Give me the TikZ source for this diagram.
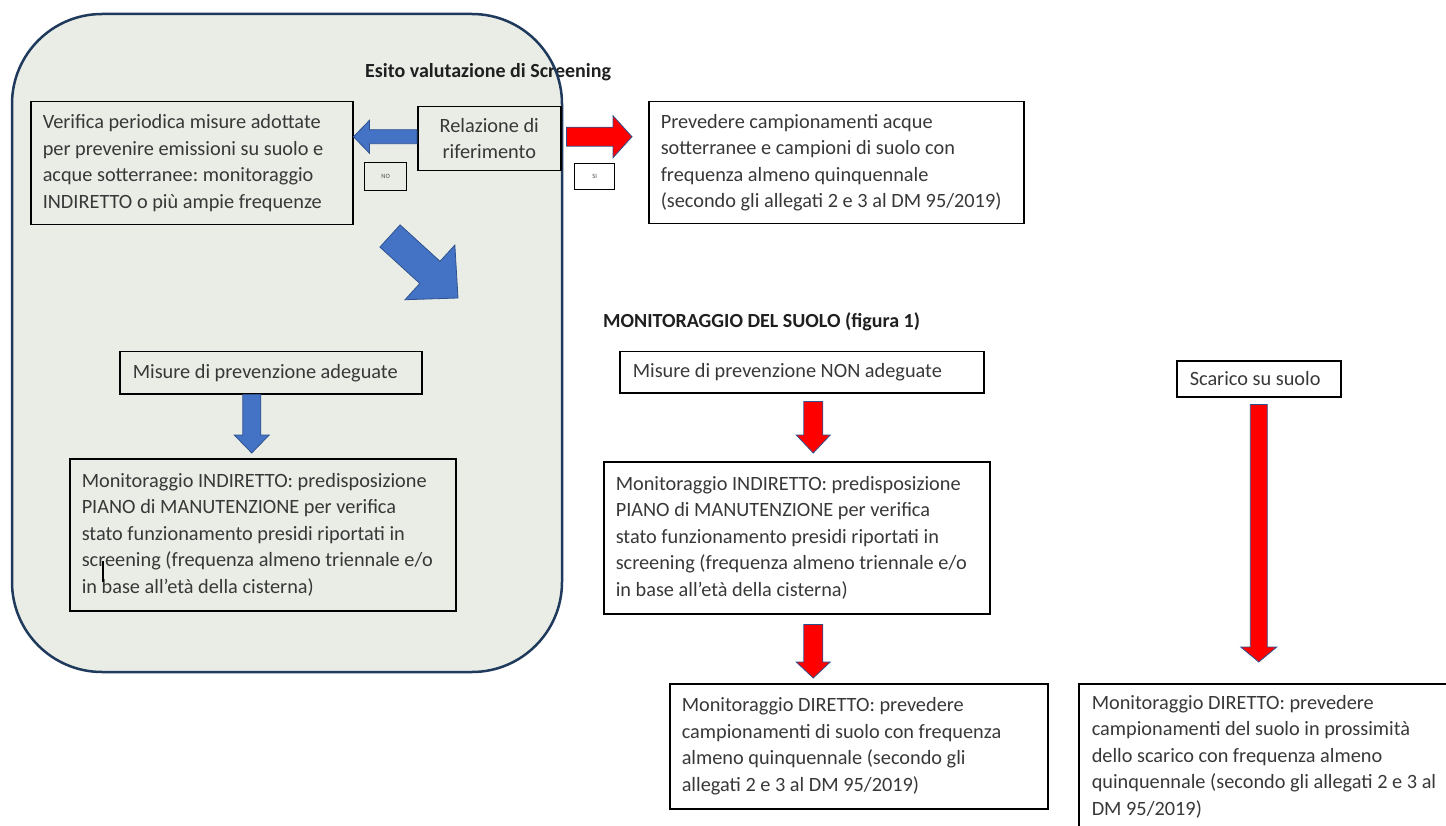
\documentclass[tikz,border=0pt]{standalone}
\usepackage{fontspec}
\setmainfont{Carlito}
\usetikzlibrary{calc}
\definecolor{bgpanel}{HTML}{E9EDE6}
\definecolor{panelline}{HTML}{1F3A5C}
\definecolor{arrblue}{HTML}{4472C4}
\definecolor{arredge}{HTML}{2F528F}
\definecolor{arrred}{HTML}{FF0000}
\newcommand\boxfont{\fontsize{20.3}{26.5}\selectfont\frenchspacing}
% block arrow: #1 style, #2 tail, #3 tip, #4 half shaft, #5 half head, #6 head length
\newcommand\blkarr[6]{%
  \coordinate (tmpH) at ($(#3)!#6!(#2)$);
  \draw[#1] ($(#2)!#4!90:(#3)$) -- ($(tmpH)!#4!90:(#3)$) -- ($(tmpH)!#5!90:(#3)$)
    -- (#3) -- ($(tmpH)!#5!-90:(#3)$) -- ($(tmpH)!#4!-90:(#3)$) -- ($(#2)!#4!-90:(#3)$) -- cycle;}
\tikzset{
  txtbox/.style={draw=black, line width=1.5pt, anchor=north west, inner xsep=12pt,
    inner ysep=0pt, align=flush left, font=\boxfont, text=black!78},
  tagbox/.style={draw=black, line width=1.3pt, anchor=north west, inner sep=0pt,
    font=\fontsize{6.5}{7}\selectfont, text=black!70},
  ttl/.style={font=\bfseries\fontsize{20}{24}\selectfont, inner sep=0pt, anchor=west, text=black!88},
  bluearr/.style={fill=arrblue, draw=arredge, line width=0.8pt},
  redarr/.style={fill=arrred, draw=arredge, line width=0.8pt}
}
\begin{document}
\begin{tikzpicture}[x=1pt,y=-1pt]
\useasboundingbox (0,0) rectangle (1446,826);
\clip (0,0) rectangle (1446,826);
% panel
\fill[bgpanel, rounded corners=90pt] (12,14) rectangle (562,672);
\node[ttl] (esito) at (365,72) {Esito valutazione di Screening};
\draw[panelline, line width=2.5pt, rounded corners=90pt] (12,14) rectangle (562,672);

% boxes
\node[txtbox, text width=298pt, minimum height=123pt] (ver) at (30,101)
  {Verifica periodica misure adottate\\per prevenire emissioni su suolo e\\acque sotterranee: monitoraggio\\INDIRETTO o più ampie frequenze};
\node[tagbox, minimum width=42pt, minimum height=28pt] (no) at (364,162) {NO};
\node[txtbox, align=flush center, text width=119pt, minimum height=64pt] (rel) at (417,106)
  {Relazione di\\riferimento};
\node[tagbox, minimum width=40pt, minimum height=26pt] (si) at (574,163) {SI};
\node[txtbox, text width=351pt, minimum height=122pt] (prev) at (648,101)
  {Prevedere campionamenti acque\\sotterranee e campioni di suolo con\\frequenza almeno quinquennale\\\mbox{(secondo gli allegati 2 e 3 al DM 95/2019)}};

\node[ttl] (mon) at (603,322) {MONITORAGGIO DEL SUOLO (figura 1)};

\node[txtbox, text width=276pt, minimum height=42pt, inner xsep=13pt] (mpa) at (119,351)
  {Misure di prevenzione adeguate};
\node[txtbox, text width=362pt, minimum height=152pt] (indL) at (69,458)
  {Monitoraggio INDIRETTO: predisposizione\\PIANO di MANUTENZIONE per verifica\\stato funzionamento presidi riportati in\\\mbox{screening (frequenza almeno triennale e/o}\\in base all’età della cisterna)};
\draw[line width=1.2pt] (103,561) -- (103,582);

\node[txtbox, text width=338pt, minimum height=41pt, inner xsep=13pt] (mpn) at (619,351)
  {Misure di prevenzione NON adeguate};
\node[txtbox, text width=362pt, minimum height=152pt] (indM) at (603,461)
  {Monitoraggio INDIRETTO: predisposizione\\PIANO di MANUTENZIONE per verifica\\stato funzionamento presidi riportati in\\\mbox{screening (frequenza almeno triennale e/o}\\in base all’età della cisterna)};
\node[txtbox, text width=354pt, minimum height=125pt] (dirM) at (669,683)
  {Monitoraggio DIRETTO: prevedere\\campionamenti di suolo con frequenza\\almeno quinquennale (secondo gli\\allegati 2 e 3 al DM 95/2019)};

\node[txtbox, text width=138pt, minimum height=36pt, inner xsep=13pt] (scar) at (1176,360)
  {Scarico su suolo};
\node[txtbox, text width=364pt, minimum height=146pt, inner xsep=13pt] (dirR) at (1078,683)
  {Monitoraggio DIRETTO: prevedere\\campionamenti del suolo in prossimità\\dello scarico con frequenza almeno\\\mbox{quinquennale (secondo gli allegati 2 e 3 al}\\DM 95/2019)};

% arrow end points
\coordinate (na) at ([yshift=2pt]rel.west);
\coordinate (nb) at (na -| ver.east);
\coordinate (sa) at ($(rel.east)+(5,-2)$);
\coordinate (sb) at ($(sa -| prev.west)+(-16,0)$);
\coordinate (dg1) at (390,236);
\coordinate (dg2) at (458,298);
\coordinate (ba) at ($(mpa.south)+(-19,0)$);
\coordinate (bb) at ($(ba |- indL.north)+(0,-5)$);
\coordinate (r1a) at ($(mpn.south)+(11.5,8)$);
\coordinate (r1b) at ($(r1a |- indM.north)+(0,-8)$);
\coordinate (r2a) at ($(r1a |- indM.south)+(0,10)$);
\coordinate (r2b) at ($(r2a |- dirM.north)+(0,-5)$);
\coordinate (r3a) at ($(scar.south)+(0,7)$);
\coordinate (r3b) at ($(r3a |- dirR.north)+(0,-21)$);

% block arrows
\blkarr{bluearr}{na}{nb}{7pt}{16.5pt}{16pt}
\blkarr{redarr}{sa}{sb}{9.5pt}{21pt}{19pt}
\blkarr{bluearr}{dg1}{dg2}{15pt}{37pt}{38pt}
\blkarr{bluearr}{ba}{bb}{9pt}{17.5pt}{18pt}
\blkarr{redarr}{r1a}{r1b}{9.5pt}{17pt}{18pt}
\blkarr{redarr}{r2a}{r2b}{9.5pt}{17pt}{16pt}
\blkarr{redarr}{r3a}{r3b}{8.5pt}{18pt}{15pt}
\end{tikzpicture}
\end{document}
